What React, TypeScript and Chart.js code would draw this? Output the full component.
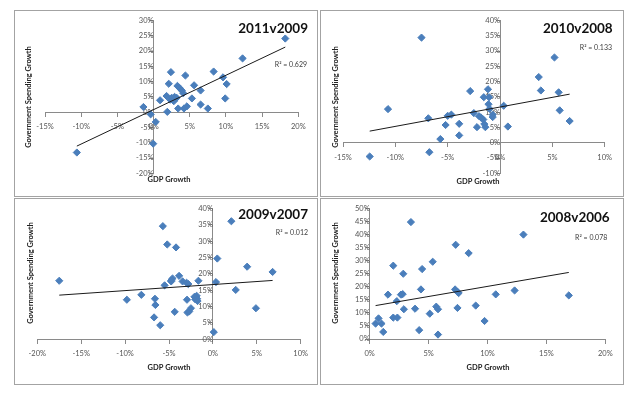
import React, { useEffect, useRef } from "react";
import { Chart, registerables } from "chart.js";

Chart.register(...registerables);

// ---- Data (values in percent) ----
const gdp1109 = [-10.6, -1.4, -0.4, -0.05, 0.3, 0.9, 1.8, 1.9, 2.1, 2.4, 2.3, 2.5, 2.7, 2.9, 2.8, 3.2, 3.4, 3.3, 3.6, 3.9, 4.1, 4.4, 4.2, 4.6, 5.3, 5.6, 6.5, 6.5, 7.5, 8.3, 9.6, 9.9, 10.1, 12.3, 18.2];
const gov1109 = [-13.2, 1.7, -0.7, -10.3, -3.2, 3.9, 5.3, 0.1, 9.3, 13.1, 4.1, 4.7, 3.9, 5.0, 3.6, 4.7, 1.2, 8.6, 7.9, 7.1, 6.2, 12.0, 1.2, 1.9, 4.5, 8.8, 7.1, 2.5, 1.2, 13.3, 11.4, 4.5, 9.2, 17.6, 24.1];
const trend1109X = [-10.6, 18.2];
const trend1109Y = [-11.1, 21.3];

const gdp1008 = [-12.45, -10.7, -7.5, -6.85, -6.75, -5.7, -5.2, -5.0, -4.65, -3.9, -3.9, -2.85, -2.5, -2.2, -2.0, -1.8, -1.6, -1.5, -1.4, -1.55, -1.15, -1.05, -1.1, -1.0, -0.7, -0.7, 0.35, 0.75, 3.7, 3.9, 5.2, 5.6, 5.7, 6.65];
const gov1008 = [-4.5, 11.0, 34.4, 8.0, -3.1, 1.2, 5.8, 8.8, 9.2, 6.2, 2.4, 16.9, 9.7, 5.1, 8.7, 8.2, 7.6, 6.1, 5.1, 14.9, 17.5, 14.9, 12.6, 11.1, 9.2, 8.4, 12.1, 5.3, 21.5, 17.1, 27.9, 16.5, 10.6, 7.1];
const trend1008X = [-12.45, 6.65];
const trend1008Y = [3.8, 15.9];

const gdp0907 = [-17.5, -9.8, -8.15, -6.6, -6.55, -6.7, -6.0, -5.7, -5.5, -5.2, -4.75, -4.6, -4.75, -4.35, -4.2, -3.85, -3.45, -3.0, -2.8, -2.95, -2.9, -2.7, -2.5, -2.1, -2.0, -1.85, -1.8, -1.75, -1.65, 0.1, 0.35, 0.5, 2.1, 2.6, 3.9, 4.9, 6.8];
const gov0907 = [17.9, 12.1, 13.6, 12.4, 10.5, 6.7, 4.3, 34.6, 16.5, 29.0, 18.0, 18.6, 17.7, 8.4, 28.1, 19.4, 17.7, 17.3, 16.9, 12.1, 8.2, 8.5, 9.5, 13.0, 12.2, 13.3, 12.4, 11.7, 17.9, 2.2, 17.5, 24.7, 36.1, 15.1, 22.2, 9.5, 20.6];
const trend0907X = [-17.5, 6.8];
const trend0907Y = [13.5, 18.0];

const gdp0806 = [0.5, 0.75, 1.0, 1.15, 1.55, 2.0, 2.0, 2.3, 2.35, 2.65, 2.8, 2.85, 2.9, 3.5, 3.85, 4.2, 4.35, 4.45, 5.1, 5.35, 5.65, 5.8, 5.8, 7.25, 7.3, 7.45, 7.45, 7.55, 8.4, 9.0, 9.75, 10.7, 12.3, 13.05, 16.9];
const gov0806 = [5.9, 7.9, 5.9, 2.7, 17.0, 28.1, 8.2, 14.5, 8.2, 17.0, 17.2, 25.0, 11.4, 44.8, 11.6, 3.4, 19.0, 26.8, 9.7, 29.6, 12.4, 11.4, 1.7, 19.0, 36.1, 11.9, 18.1, 17.6, 32.9, 12.8, 6.9, 17.1, 18.6, 40.0, 16.7];
const trend0806X = [0.5, 16.9];
const trend0806Y = [12.8, 25.5];

const panelTitles = ["2011v2009", "2010v2008", "2009v2007", "2008v2006"];
const r2Labels = ["R\u00B2 = 0.629", "R\u00B2 = 0.133", "R\u00B2 = 0.012", "R\u00B2 = 0.078"];
const xTitle = "GDP Growth";
const yTitle = "Government Spending Growth";

// axis ranges [min, max] in percent
const xRanges = [[-15, 20], [-15, 10], [-20, 10], [0, 20]];
const yRanges = [[-20, 30], [-10, 40], [0, 40], [0, 50]];
const tickStep = 5;

// ---- layout (not data) ----
const CW = 302;
const CH = 185;
const panelLayouts = [
  { left: 14, top: 10, pad: { left: 30, right: 18.7, top: 9, bottom: 22.7 }, title: [293, 18], r2: [292, 54], xt: [154, 169], yt: [14, 86] },
  { left: 320, top: 10, pad: { left: 22, right: 18.3, top: 8.3, bottom: 22.7 }, title: [291.7, 18], r2: [291, 37], xt: [157, 170.7], yt: [15, 86] },
  { left: 14, top: 198, pad: { left: 22.3, right: 16.3, top: 9.3, bottom: 44.7 }, title: [293, 15.3], r2: [293, 33.3], xt: [154, 169], yt: [16, 74] },
  { left: 320, top: 198, pad: { left: 48.7, right: 17.7, top: 9.3, bottom: 45 }, title: [288.7, 18.7], r2: [286.3, 38.7], xt: [167, 169], yt: [15, 74] },
];

const panelData = [
  { xs: gdp1109, ys: gov1109, tx: trend1109X, ty: trend1109Y },
  { xs: gdp1008, ys: gov1008, tx: trend1008X, ty: trend1008Y },
  { xs: gdp0907, ys: gov0907, tx: trend0907X, ty: trend0907Y },
  { xs: gdp0806, ys: gov0806, tx: trend0806X, ty: trend0806Y },
];

const FONT = "Lato, 'Open Sans', sans-serif";
const AXIS_COLOR = "#8a8a8a";
const TICK_COLOR = "#555555";
const POINT_COLOR = "#4a7ebb";

const textPlugin = {
  id: "panelText",
  afterDraw(chart: any, _args: any, opts: any) {
    const ctx = chart.ctx;
    ctx.save();
    ctx.fillStyle = "#111";
    ctx.textBaseline = "middle";
    ctx.textAlign = "right";
    ctx.font = `bold 13.5px ${FONT}`;
    ctx.fillText(opts.title, opts.titlePos[0], opts.titlePos[1]);
    ctx.font = `7px ${FONT}`;
    ctx.fillStyle = "#404040";
    ctx.fillText(opts.r2, opts.r2Pos[0], opts.r2Pos[1]);
    ctx.fillStyle = "#222";
    ctx.textAlign = "center";
    ctx.font = `bold 7.5px ${FONT}`;
    ctx.fillText(opts.xTitle, opts.xtPos[0], opts.xtPos[1]);
    ctx.translate(opts.ytPos[0], opts.ytPos[1]);
    ctx.rotate(-Math.PI / 2);
    ctx.fillText(opts.yTitle, 0, 0);
    ctx.restore();
  },
};

function Panel({ idx }: { idx: number }) {
  const ref = useRef<HTMLCanvasElement | null>(null);
  const lay = panelLayouts[idx];
  useEffect(() => {
    if (!ref.current) return;
    const d = panelData[idx];
    const pts = d.xs.map((x, i) => ({ x, y: d.ys[i] }));
    const trend = d.tx.map((x, i) => ({ x, y: d.ty[i] }));
    const tickFont = { family: FONT, size: 7.5 };
    const chart = new Chart(ref.current, {
      type: "scatter",
      data: {
        datasets: [
          {
            data: trend,
            showLine: true,
            borderColor: "#1a1a1a",
            borderWidth: 1,
            pointRadius: 0,
            fill: false,
          } as any,
          {
            data: pts,
            pointStyle: "rectRot",
            pointRadius: 3.6,
            backgroundColor: POINT_COLOR,
            borderColor: POINT_COLOR,
            borderWidth: 1,
          } as any,
        ],
      },
      options: {
        responsive: false,
        maintainAspectRatio: false,
        animation: false,
        events: [],
        layout: { padding: lay.pad },
        plugins: {
          legend: { display: false },
          tooltip: { enabled: false },
          panelText: {
            title: panelTitles[idx],
            titlePos: lay.title,
            r2: r2Labels[idx],
            r2Pos: lay.r2,
            xTitle,
            xtPos: lay.xt,
            yTitle,
            ytPos: lay.yt,
          },
        } as any,
        scales: {
          x: {
            type: "linear",
            position: { y: 0 } as any,
            min: xRanges[idx][0],
            max: xRanges[idx][1],
            ticks: {
              stepSize: tickStep,
              autoSkip: false,
              maxRotation: 0,
              padding: 6,
              color: TICK_COLOR,
              font: tickFont,
              callback: (v: any) => `${v}%`,
            },
            grid: { drawOnChartArea: false, drawTicks: true, tickLength: 4, color: AXIS_COLOR },
            border: { display: true, color: AXIS_COLOR, width: 1 },
          },
          y: {
            type: "linear",
            position: { x: 0 } as any,
            min: yRanges[idx][0],
            max: yRanges[idx][1],
            ticks: {
              stepSize: tickStep,
              autoSkip: false,
              padding: 5,
              color: TICK_COLOR,
              font: tickFont,
              callback: (v: any) => `${v}%`,
            },
            grid: { drawOnChartArea: false, drawTicks: true, tickLength: 4, color: AXIS_COLOR },
            border: { display: true, color: AXIS_COLOR, width: 1 },
          },
        },
      },
      plugins: [textPlugin],
    });
    return () => chart.destroy();
  }, [idx]);
  return (
    <div
      style={{
        position: "absolute",
        left: lay.left,
        top: lay.top,
        width: CW + 2,
        height: CH + 2,
        border: "1px solid #a3a3a3",
        boxSizing: "border-box",
        background: "#fff",
      }}
    >
      <canvas ref={ref} width={CW} height={CH} style={{ display: "block", width: CW, height: CH }} />
    </div>
  );
}

export default function App() {
  return (
    <div style={{ position: "absolute", left: 0, top: 0, width: 639, height: 398, background: "#fff", overflow: "hidden" }}>
      {[0, 1, 2, 3].map((i) => (
        <Panel key={i} idx={i} />
      ))}
    </div>
  );
}
